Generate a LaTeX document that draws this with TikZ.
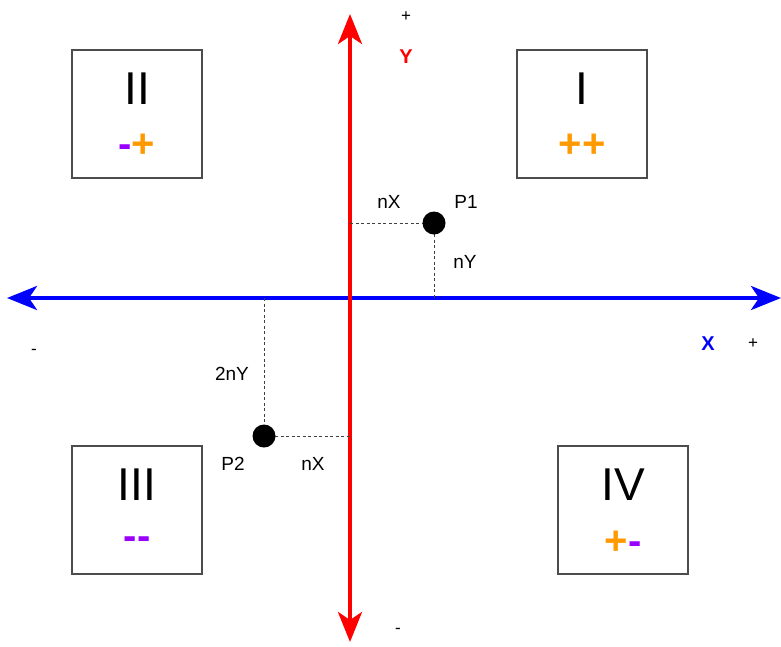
\documentclass[tikz,border=0pt]{standalone}
\usepackage{fontspec}
\setmainfont{Liberation Sans}
\usetikzlibrary{arrows.meta}
\definecolor{purp}{HTML}{9900FF}
\definecolor{orng}{HTML}{FF9900}
\begin{document}
\begin{tikzpicture}[x=1pt,y=-1pt,
  quad/.style={draw=black!70, line width=1.2pt, minimum width=130pt, minimum height=128pt, inner sep=0pt},
  numeral/.style={font=\fontsize{46}{46}\selectfont},
  sign/.style={font=\fontsize{40}{40}\selectfont\bfseries},
  lbl/.style={font=\fontsize{19}{19}\selectfont},
  small/.style={font=\fontsize{17}{17}\selectfont},
  axlbl/.style={font=\fontsize{20}{20}\selectfont\bfseries},
  guide/.style={black!75, line width=0.9pt, dash pattern=on 3pt off 2.5pt},
  pt/.style={circle, fill=black, minimum size=23pt, inner sep=0pt},
  axis/.style={line width=4pt, {Stealth[length=30pt,width=24pt,inset=8pt]}-{Stealth[length=30pt,width=24pt,inset=8pt]}}
]
\useasboundingbox (0,0) rectangle (781,646);
% quadrant boxes
\node[quad] (qII) at (137,114) {};
\node[quad] (qI) at (582,114) {};
\node[quad] (qIII) at (137,510) {};
\node[quad] (qIV) at (623,510) {};
\node[numeral] (nII) at (137,89) {II};
\node[numeral] (nI) at (582,89) {I};
\node[numeral] (nIII) at (137,485) {III};
\node[numeral] (nIV) at (623,485) {IV};
\node[sign] (sII) at (137,146) {\textcolor{purp}{-}\textcolor{orng}{+}};
\node[sign] (sI) at (582,146) {\textcolor{orng}{++}};
\node[sign] (sIII) at (137,543) {\textcolor{purp}{-{}-}};
\node[sign] (sIV) at (623,543) {\textcolor{orng}{+}\textcolor{purp}{-}};
% axes
\coordinate (ytop) at (350,14);
\coordinate (ybot) at (350,642);
\coordinate (xl) at (7,298);
\coordinate (xr) at (781,298);
\draw[axis, red] (ybot) -- (ytop);
\draw[axis, blue] (xl) -- (xr);
\draw[red, line width=4pt] (350,290) -- (350,306);
% points
\coordinate (p1c) at (434,223);
\coordinate (p2c) at (264,436);
\coordinate (p1x) at (350,223);
\coordinate (p1y) at (434,298);
\coordinate (p2x) at (350,436);
\coordinate (p2y) at (264,298);
\draw[guide] (p1x) -- (p1c);
\draw[guide] (p1c) -- (p1y);
\draw[guide] (p2y) -- (p2c);
\draw[guide] (p2c) -- (p2x);
\node[pt] (p1) at (p1c) {};
\node[pt] (p2) at (p2c) {};
% labels
\node[lbl] (l1) at (389,202) {nX};
\node[lbl] (l2) at (466,202) {P1};
\node[lbl] (l3) at (465,262) {nY};
\node[lbl] (l4) at (232,374) {2nY};
\node[lbl] (l5) at (233,464) {P2};
\node[lbl] (l6) at (313,464) {nX};
\node[small] (yp) at (406,17) {+};
\node[axlbl, text=red] (yl) at (406,57) {Y};
\node[axlbl, text=blue] (xlab) at (708,344) {X};
\node[small] (xp) at (753,344) {+};
\node[small] (xm) at (34,352) {-};
\node[small] (ym) at (398,631) {-};
\end{tikzpicture}
\end{document}
